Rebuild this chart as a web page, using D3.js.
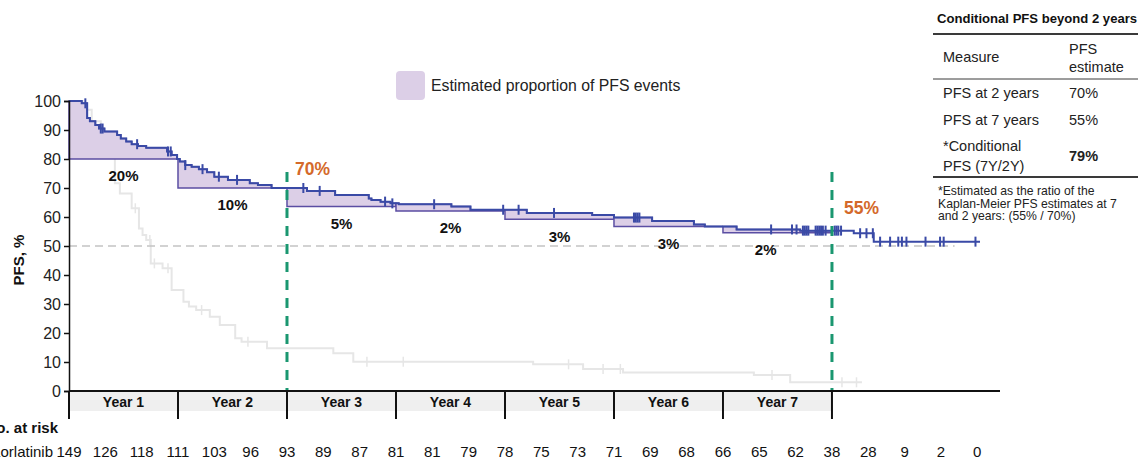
<!DOCTYPE html>
<html>
<head>
<meta charset="utf-8">
<script src="https://cdn.jsdelivr.net/npm/d3@7"></script>
<style>
  body { margin: 0; background: #fff; }
  svg { display: block; font-family: "Liberation Sans", Arial, Helvetica, sans-serif; }
</style>
</head>
<body>
<svg id="chart" width="1140" height="459"></svg>
<script>
// Kaplan-Meier PFS, lorlatinib arm: [month, PFS %] at each step
const lorlaSteps = [
  [0, 100], [1.4, 99.2], [2.0, 94.1], [2.3, 93.0], [2.9, 91.7], [3.3, 90.5], [3.9, 89.5],
  [5.3, 88.3], [5.7, 87.1], [6.3, 86.0], [6.9, 85.1], [7.6, 84.5], [8.5, 83.9], [10.8, 82.6],
  [11.3, 81.4], [11.9, 80.0], [12.2, 79.1], [12.8, 77.9], [13.5, 77.3], [14.3, 76.5],
  [15.2, 75.4], [16.0, 73.9], [17.5, 72.8], [19.9, 71.6], [20.8, 71.0], [22.3, 70.0],
  [26.2, 69.0], [29.3, 67.6], [33.0, 66.4], [33.3, 65.9], [34.3, 65.3], [35.4, 64.7],
  [36.3, 64.4], [42.1, 63.6], [44.2, 62.5], [50.4, 61.4], [57.6, 60.7], [60.0, 59.8],
  [64.2, 58.6], [68.8, 57.4], [70.0, 56.7], [73.5, 55.7], [80.5, 55.3], [86.4, 54.4],
  [88.6, 51.5]
];
const lorlaEnd = 100.3;
const lorlaCensors = [
  1.8, 3.5, 3.7, 7.5, 10.9, 11.2, 12.8, 14.7, 16.5, 18.5, 25.8, 27.6, 34.8, 35.6, 40.2,
  47.8, 49.5, 53.4, 62.2, 62.4, 62.6, 62.8, 77.3, 79.6, 80.1, 80.8, 81.0, 81.2, 81.4,
  82.2, 82.4, 82.6, 82.8, 83.0, 83.3, 84.3, 84.5, 84.7, 85.0, 87.1, 87.8, 88.5, 89.3,
  90.4, 91.3, 91.7, 92.2, 94.3, 95.9, 96.3, 99.8
];

// Comparator arm, drawn faded in the background
const comparatorSteps = [
  [0, 100], [1.5, 97], [2.5, 93], [3.5, 89], [4.3, 85], [4.8, 80.5], [5.05, 71.6],
  [5.6, 68.1], [6.9, 63.0], [7.7, 56.0], [8.1, 53.8], [8.5, 52.1], [9.0, 44.0],
  [10.3, 42.3], [11.3, 34.8], [12.6, 30.8], [13.2, 29.1], [14.0, 27.9], [15.5, 25.6],
  [16.6, 22.8], [18.3, 18.2], [19.0, 17.0], [21.8, 14.7], [29.1, 13.0], [31.3, 10.1],
  [51.1, 9.2], [56.6, 7.6], [61.0, 6.4], [75.4, 5.5], [79.4, 3.0]
];
const comparatorEnd = 87.3;
const comparatorCensors = [7.3, 8.9, 9.4, 10.9, 14.6, 19.7, 32.8, 36.8, 55.0, 58.8, 60.7, 77.4, 85.1, 86.7];

// Yearly event shading
const yearLabels = ["Year 1", "Year 2", "Year 3", "Year 4", "Year 5", "Year 6", "Year 7"];
const yearEndPFS = [80, 70, 63.6, 62.1, 59.2, 56.7, 54.6];
const yearEventLabels = ["20%", "10%", "5%", "2%", "3%", "3%", "2%"];
const yearEventLabelMonths = [6, 18, 30, 42, 54, 66, 76.7];

// Landmarks
const landmarkMonths = [24, 84];
const landmarkValues = [70, 55];
const landmarkLabels = ["70%", "55%"];

// Number at risk
const riskMonths = d3.range(0, 101, 4);
const riskCounts = [149, 126, 118, 111, 103, 96, 93, 89, 87, 81, 81, 79, 78, 75, 73, 71, 69, 68, 66, 65, 62, 38, 28, 9, 2, 0];

const yTicks = d3.range(0, 101, 10);

// Side table
const tableTitle = "Conditional PFS beyond 2 years";
const tableHeader = [["Measure"], ["PFS", "estimate"]];
const tableMeasures = [["PFS at 2 years"], ["PFS at 7 years"], ["*Conditional", "PFS (7Y/2Y)"]];
const tableEstimates = ["70%", "55%", "79%"];
const tableNote = ["*Estimated as the ratio of the", "Kaplan-Meier PFS estimates at 7", "and 2 years: (55% / 70%)"];

const svg = d3.select("#chart");
const x = d3.scaleLinear().domain([0, 102.5]).range([69, 1000]);
const y = d3.scaleLinear().domain([0, 100]).range([391, 101]);

const blue = "#3a4aa6";
const purpleFill = "#dccfe7";
const purpleEdge = "#5b4ea3";
const green = "#1a9770";
const orange = "#d4692a";

function survAt(steps, t) {
  let v = steps[0][1];
  for (const [m, s] of steps) { if (m <= t) v = s; else break; }
  return v;
}
function stepPoints(steps, end) {
  return steps.concat([[end, survAt(steps, end)]]);
}
const stepLine = d3.line().x(d => x(d[0])).y(d => y(d[1])).curve(d3.curveStepAfter);

// Comparator curve
svg.append("path")
  .attr("d", stepLine(stepPoints(comparatorSteps, comparatorEnd)))
  .attr("fill", "none").attr("stroke", "#e6e6e6").attr("stroke-width", 2);
svg.append("g").selectAll("line").data(comparatorCensors).join("line")
  .attr("x1", d => x(d)).attr("x2", d => x(d))
  .attr("y1", d => y(survAt(comparatorSteps, d)) - 5)
  .attr("y2", d => y(survAt(comparatorSteps, d)) + 5)
  .attr("stroke", "#e6e6e6").attr("stroke-width", 1.5);

// 50% reference line
svg.append("line")
  .attr("x1", x(0)).attr("x2", x(97.5)).attr("y1", y(50)).attr("y2", y(50))
  .attr("stroke", "#c4c4c4").attr("stroke-width", 1.5).attr("stroke-dasharray", "8,5");

// Shaded proportion of events within each year
yearEndPFS.forEach((b, k) => {
  const t0 = 12 * k, t1 = 12 * (k + 1);
  const pts = [[t0, survAt(lorlaSteps, t0)]]
    .concat(lorlaSteps.filter(d => d[0] > t0 && d[0] < t1))
    .concat([[t1, survAt(lorlaSteps, t1)]]);
  const area = d3.area().x(d => x(d[0])).y0(y(b)).y1(d => y(d[1])).curve(d3.curveStepAfter);
  svg.append("path").attr("d", area(pts))
    .attr("fill", purpleFill).attr("stroke", purpleEdge).attr("stroke-width", 1.5);
});

// Lorlatinib curve and censor marks
svg.append("path")
  .attr("d", stepLine(stepPoints(lorlaSteps, lorlaEnd)))
  .attr("fill", "none").attr("stroke", blue).attr("stroke-width", 2);
svg.append("g").selectAll("line").data(lorlaCensors).join("line")
  .attr("x1", d => x(d)).attr("x2", d => x(d))
  .attr("y1", d => y(survAt(lorlaSteps, d)) - 5)
  .attr("y2", d => y(survAt(lorlaSteps, d)) + 5)
  .attr("stroke", blue).attr("stroke-width", 2);

// Yearly event labels
svg.append("g").selectAll("text").data(yearEventLabels).join("text")
  .attr("x", (d, i) => x(yearEventLabelMonths[i]))
  .attr("y", (d, i) => y(yearEndPFS[i]) + 17)
  .attr("dy", "0.35em").attr("text-anchor", "middle")
  .attr("font-size", 15).attr("font-weight", "bold").attr("fill", "#111")
  .text(d => d);

// Landmark lines and labels
landmarkMonths.forEach((m, i) => {
  svg.append("line")
    .attr("x1", x(m)).attr("x2", x(m)).attr("y1", 172).attr("y2", y(0))
    .attr("stroke", green).attr("stroke-width", 3).attr("stroke-dasharray", "10,8");
  svg.append("text")
    .attr("x", x(m) + (i === 0 ? 8 : 12))
    .attr("y", y(landmarkValues[i]) - (i === 0 ? 13 : 18))
    .attr("font-size", 17.5).attr("font-weight", "bold").attr("fill", orange)
    .text(landmarkLabels[i]);
});

// Y axis
const yAxis = svg.append("g").attr("transform", `translate(${x(0)},0)`)
  .call(d3.axisLeft(y).tickValues(yTicks).tickSize(5).tickPadding(3));
yAxis.select(".domain").attr("stroke", "#111").attr("stroke-width", 1.5);
yAxis.selectAll(".tick line").attr("stroke", "#111").attr("stroke-width", 1.5);
yAxis.selectAll(".tick text").attr("font-size", 16).attr("fill", "#222")
  .attr("font-family", "Liberation Sans, Arial, sans-serif");

svg.append("text")
  .attr("transform", `translate(19,${(y(0) + y(100)) / 2 + 14}) rotate(-90)`)
  .attr("text-anchor", "middle").attr("dy", "0.35em")
  .attr("font-size", 15).attr("font-weight", "bold").attr("fill", "#111")
  .text("PFS, %");

// X axis with year bands
svg.append("rect")
  .attr("x", x(0)).attr("y", y(0)).attr("width", x(84) - x(0)).attr("height", 20)
  .attr("fill", "#efefef");
svg.append("line")
  .attr("x1", x(0)).attr("x2", x(102.5)).attr("y1", y(0)).attr("y2", y(0))
  .attr("stroke", "#111").attr("stroke-width", 2);
svg.append("g").selectAll("line").data(d3.range(0, 8)).join("line")
  .attr("x1", d => x(12 * d)).attr("x2", d => x(12 * d))
  .attr("y1", y(0)).attr("y2", y(0) + 28)
  .attr("stroke", "#111").attr("stroke-width", 2);
svg.append("g").selectAll("text").data(yearLabels).join("text")
  .attr("x", (d, i) => x(12 * i + 6)).attr("y", y(0) + 11)
  .attr("dy", "0.35em").attr("text-anchor", "middle")
  .attr("font-size", 14).attr("font-weight", "bold").attr("fill", "#111")
  .text(d => d);

// Number at risk (row labels run off the left edge of the figure)
svg.append("text").attr("x", 58).attr("y", 428).attr("dy", "0.35em")
  .attr("text-anchor", "end").attr("font-size", 15).attr("font-weight", "bold").attr("fill", "#111")
  .text("No. at risk");
svg.append("text").attr("x", 53).attr("y", 452).attr("dy", "0.35em")
  .attr("text-anchor", "end").attr("font-size", 15).attr("fill", "#111")
  .text("Lorlatinib");
svg.append("g").selectAll("text").data(riskCounts).join("text")
  .attr("x", (d, i) => x(riskMonths[i])).attr("y", 452).attr("dy", "0.35em")
  .attr("text-anchor", "middle").attr("font-size", 15).attr("fill", "#111")
  .text(d => d);

// Legend
svg.append("rect").attr("x", 396).attr("y", 71).attr("width", 29).attr("height", 29)
  .attr("rx", 4).attr("fill", purpleFill);
svg.append("text").attr("x", 431).attr("y", 85.5).attr("dy", "0.35em")
  .attr("font-size", 15.8).attr("fill", "#222").text("Estimated proportion of PFS events");

// Side table
const tx0 = 933, tx1 = 1138, c1 = 943, c2 = 1069;
svg.append("text").attr("x", 937).attr("y", 18).attr("dy", "0.35em")
  .attr("font-size", 13.1).attr("font-weight", "bold").attr("fill", "#111").text(tableTitle);
[[34, 2], [79, 1], [177, 2]].forEach(([ly, w]) => {
  svg.append("line").attr("x1", tx0).attr("x2", tx1).attr("y1", ly).attr("y2", ly)
    .attr("stroke", "#3a3a3a").attr("stroke-width", w);
});
svg.append("text").attr("x", c1).attr("y", 57).attr("dy", "0.35em")
  .attr("font-size", 14.5).attr("fill", "#222").text(tableHeader[0][0]);
tableHeader[1].forEach((t, i) => {
  svg.append("text").attr("x", c2).attr("y", 49 + i * 17.5).attr("dy", "0.35em")
    .attr("font-size", 14.5).attr("fill", "#222").text(t);
});
const rowCenters = [93, 120, 156];
tableMeasures.forEach((lines, r) => {
  lines.forEach((t, j) => {
    svg.append("text").attr("x", c1)
      .attr("y", rowCenters[r] + (j - (lines.length - 1) / 2) * 19.5).attr("dy", "0.35em")
      .attr("font-size", 14.5).attr("fill", "#222").text(t);
  });
  svg.append("text").attr("x", c2).attr("y", rowCenters[r]).attr("dy", "0.35em")
    .attr("font-size", 14.5).attr("fill", "#222")
    .attr("font-weight", r === 2 ? "bold" : "normal").text(tableEstimates[r]);
});
tableNote.forEach((t, i) => {
  svg.append("text").attr("x", 938).attr("y", 191 + i * 12.5).attr("dy", "0.35em")
    .attr("font-size", 12.2).attr("fill", "#222").text(t);
});
</script>
</body>
</html>
